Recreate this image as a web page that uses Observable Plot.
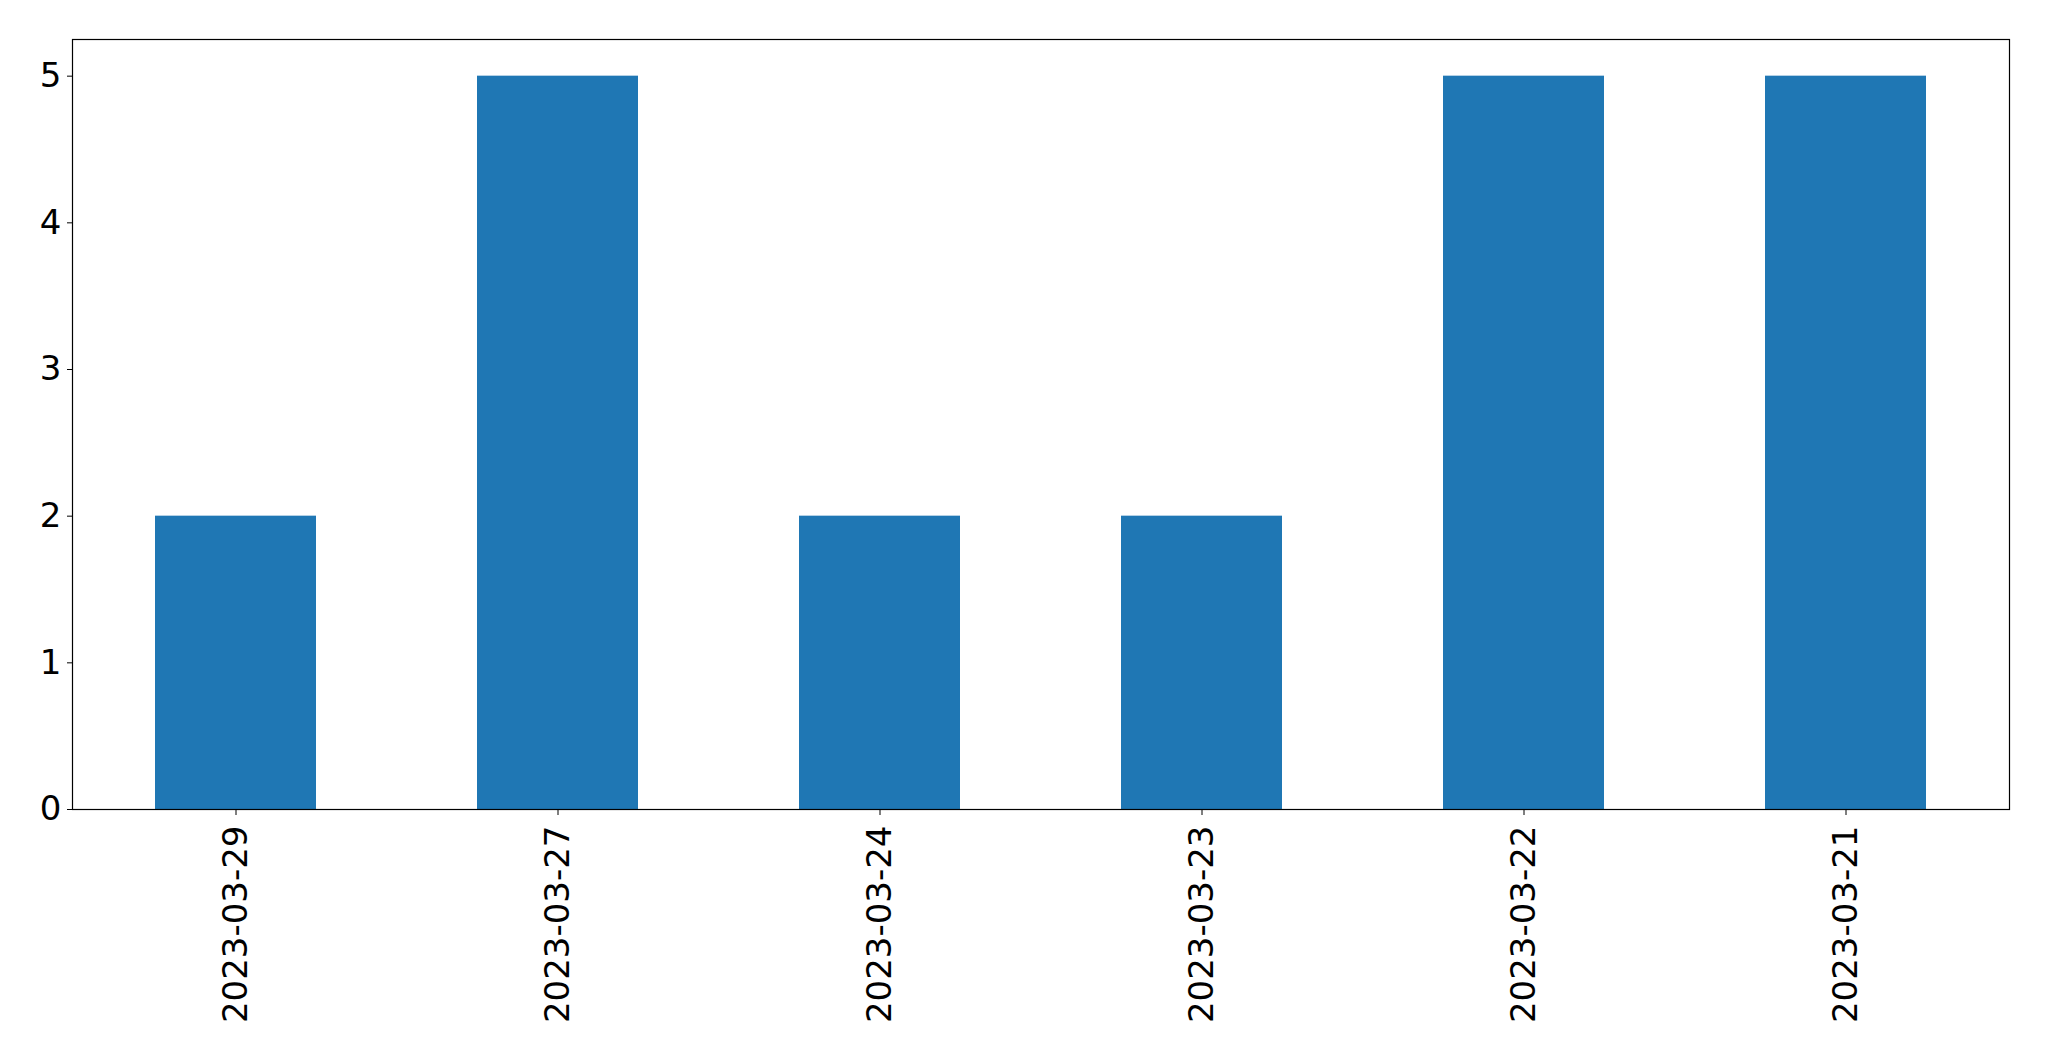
<!DOCTYPE html>
<html>
<head>
<meta charset="utf-8">
<script src="https://cdn.jsdelivr.net/npm/d3@7"></script>
<script src="https://cdn.jsdelivr.net/npm/@observablehq/plot@0.6"></script>
<style>
  html, body { margin: 0; padding: 0; background: #fff; }
  #chart svg { display: block; }
</style>
</head>
<body>
<div id="chart"></div>
<script>
const dates = ["2023-03-29", "2023-03-27", "2023-03-24", "2023-03-23", "2023-03-22", "2023-03-21"];
const counts = [2, 5, 2, 2, 5, 5];
const yTicks = [0, 1, 2, 3, 4, 5];

const data = dates.map((d, i) => ({date: d, count: counts[i]}));

const chart = Plot.plot({
  width: 2049,
  height: 1061,
  marginLeft: 72,
  marginRight: 40,
  marginTop: 39,
  marginBottom: 252,
  style: {fontFamily: "DejaVu Sans", fontSize: "34px", color: "#000", background: "#fff"},
  x: {domain: dates, paddingInner: 0.5, paddingOuter: 0.25, label: null},
  y: {domain: [0, 5.25], label: null},
  marks: [
    Plot.barY(data, {x: "date", y: "count", fill: "#1f77b4"}),
    Plot.axisY({ticks: yTicks, tickSize: 5, tickPadding: 6, tickFormat: d3.format("d"), fontSize: 34, label: null}),
    Plot.axisX({tickSize: 6, tickPadding: 10, tickRotate: -90, fontSize: 34, label: null}),
    Plot.frame({stroke: "#000", strokeWidth: 1.2})
  ]
});
document.getElementById("chart").appendChild(chart);
</script>
</body>
</html>
